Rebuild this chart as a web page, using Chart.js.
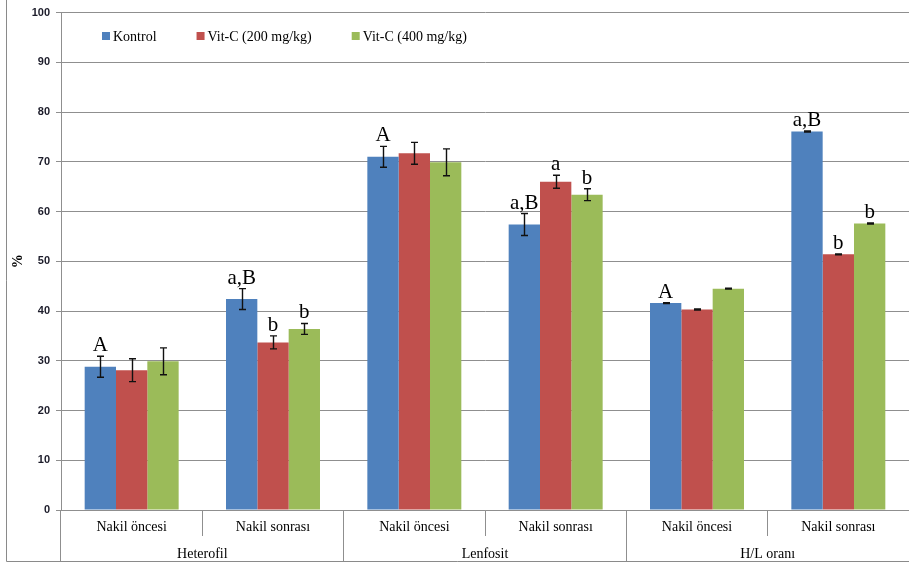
<!DOCTYPE html>
<html>
<head>
<meta charset="utf-8">
<script src="https://cdn.jsdelivr.net/npm/chart.js@4/dist/chart.umd.min.js"></script>
<style>
  html, body { margin: 0; padding: 0; background: #ffffff; }
  #wrap { width: 909px; height: 567px; position: relative; }
</style>
</head>
<body>
<div id="wrap"><canvas id="c" width="909" height="567"></canvas></div>
<script>
// Sub-categories along the x axis and the three parameter groups under them
const categories = ['Nakil öncesi', 'Nakil sonrası', 'Nakil öncesi', 'Nakil sonrası', 'Nakil öncesi', 'Nakil sonrası'];
const groups = ['Heterofil', 'Lenfosit', 'H/L oranı'];
const seriesNames = ['Kontrol', 'Vit-C (200 mg/kg)', 'Vit-C (400 mg/kg)'];

// Mean values (%)
const kontrol = [28.8, 42.4, 71.0, 57.4, 41.6, 76.1];
const vitC200 = [28.1, 33.7, 71.7, 66.0, 40.3, 51.4];
const vitC400 = [29.9, 36.4, 69.9, 63.4, 44.5, 57.6];

// Standard errors
const kontrolErr = [2.1, 2.1, 2.1, 2.2, 0.1, 0.1];
const vitC200Err = [2.3, 1.3, 2.2, 1.3, 0.1, 0.1];
const vitC400Err = [2.7, 1.1, 2.7, 1.2, 0.1, 0.1];

// Significance letters above each bar
const kontrolSig = ['A', 'a,B', 'A', 'a,B', 'A', 'a,B'];
const vitC200Sig = ['', 'b', '', 'a', '', 'b'];
const vitC400Sig = ['', 'b', '', 'b', '', 'b'];

// Y axis ticks
const yTicks = [0, 10, 20, 30, 40, 50, 60, 70, 80, 90, 100];

const colors = ['#4F81BD', '#C0504D', '#9BBB59'];
const values = [kontrol, vitC200, vitC400];
const errors = [kontrolErr, vitC200Err, vitC400Err];
const sigs = [kontrolSig, vitC200Sig, vitC400Sig];

const serif = '"Liberation Serif", "Times New Roman", serif';
const gridColor = '#8f8f8f';

// Outer frame of the figure (left and bottom edges)
const framePlugin = {
  id: 'frame',
  beforeDraw(chart) {
    const ctx = chart.ctx;
    ctx.save();
    ctx.strokeStyle = '#8a8a8a';
    ctx.lineWidth = 1;
    ctx.beginPath();
    ctx.moveTo(6.5, 0);
    ctx.lineTo(6.5, 561.5);
    ctx.lineTo(chart.width, 561.5);
    ctx.stroke();
    ctx.restore();
  }
};

// Error bars and significance letters, positioned from the bar elements and y scale
const errorPlugin = {
  id: 'errorBars',
  afterDatasetsDraw(chart) {
    const ctx = chart.ctx;
    const y = chart.scales.y;
    ctx.save();
    chart.data.datasets.forEach((ds, di) => {
      const meta = chart.getDatasetMeta(di);
      meta.data.forEach((bar, i) => {
        const v = ds.data[i];
        const e = ds.errors[i];
        const top = y.getPixelForValue(v + e);
        const bot = y.getPixelForValue(v - e);
        const x = Math.round(bar.x) + 0.5;
        ctx.strokeStyle = '#111111';
        ctx.lineWidth = 1.4;
        ctx.beginPath();
        ctx.moveTo(x, top);
        ctx.lineTo(x, bot);
        ctx.moveTo(x - 3.5, top);
        ctx.lineTo(x + 3.5, top);
        ctx.moveTo(x - 3.5, bot);
        ctx.lineTo(x + 3.5, bot);
        ctx.stroke();
        const s = ds.sig[i];
        if (s) {
          ctx.fillStyle = '#000000';
          ctx.font = '21px ' + serif;
          ctx.textAlign = 'center';
          ctx.textBaseline = 'alphabetic';
          ctx.fillText(s, bar.x, top - 5);
        }
      });
    });
    ctx.restore();
  }
};

// Legend row inside the plot area
const legendPlugin = {
  id: 'insideLegend',
  afterDraw(chart) {
    const ctx = chart.ctx;
    ctx.save();
    ctx.font = '14px ' + serif;
    ctx.textBaseline = 'alphabetic';
    ctx.textAlign = 'left';
    let x = 102;
    chart.data.datasets.forEach((ds) => {
      ctx.fillStyle = ds.backgroundColor;
      ctx.fillRect(x, 32, 8, 8);
      ctx.fillStyle = '#000000';
      ctx.fillText(ds.label, x + 11, 41);
      x += 11 + ctx.measureText(ds.label).width + 40;
    });
    ctx.restore();
  }
};

const datasets = seriesNames.map((name, i) => ({
  label: name,
  data: values[i],
  errors: errors[i],
  sig: sigs[i],
  backgroundColor: colors[i],
  borderWidth: 0,
  categoryPercentage: 0.665,
  barPercentage: 1.0
}));

// Separator lines between categories; the closing line at the right edge
// (which gets the scale context rather than a tick context) is left out
const separatorColor = (ctx) => (ctx.type === 'tick' ? gridColor : 'rgba(0,0,0,0)');

new Chart(document.getElementById('c'), {
  type: 'bar',
  data: { labels: categories, datasets: datasets },
  options: {
    responsive: false,
    animation: false,
    layout: { padding: { left: 7, right: 0, top: 10, bottom: 6 } },
    plugins: {
      legend: { display: false },
      tooltip: { enabled: false }
    },
    scales: {
      y: {
        min: 0,
        max: 100,
        afterBuildTicks(scale) { scale.ticks = yTicks.map(v => ({ value: v })); },
        afterFit(scale) { scale.width = 54; },
        grid: { color: gridColor, lineWidth: 1, tickLength: 5 },
        border: { display: true, color: gridColor, width: 1 },
        ticks: {
          padding: 6,
          color: '#1c1c2a',
          font: { family: '"Liberation Sans", Arial, sans-serif', size: 11, weight: 'bold' }
        },
        title: {
          display: true,
          text: '%',
          color: '#000000',
          padding: { top: 3, bottom: 0 },
          font: { family: serif, size: 14, weight: 'bold' }
        }
      },
      x: {
        position: 'bottom',
        offset: true,
        afterFit(scale) { scale.height = 26; },
        grid: { offset: true, drawOnChartArea: false, color: separatorColor, tickLength: 26 },
        border: { display: true, color: gridColor, width: 1 },
        ticks: {
          autoSkip: false,
          maxRotation: 0,
          padding: -17,
          color: '#000000',
          font: { family: serif, size: 14 }
        }
      },
      x2: {
        type: 'category',
        position: 'bottom',
        labels: groups,
        offset: true,
        afterFit(scale) { scale.height = 25; },
        grid: { offset: true, drawOnChartArea: false, color: separatorColor, tickLength: 25 },
        border: { display: false },
        ticks: {
          autoSkip: false,
          maxRotation: 0,
          padding: -15,
          color: '#000000',
          font: { family: serif, size: 14 }
        }
      }
    }
  },
  plugins: [framePlugin, errorPlugin, legendPlugin]
});
</script>
</body>
</html>
